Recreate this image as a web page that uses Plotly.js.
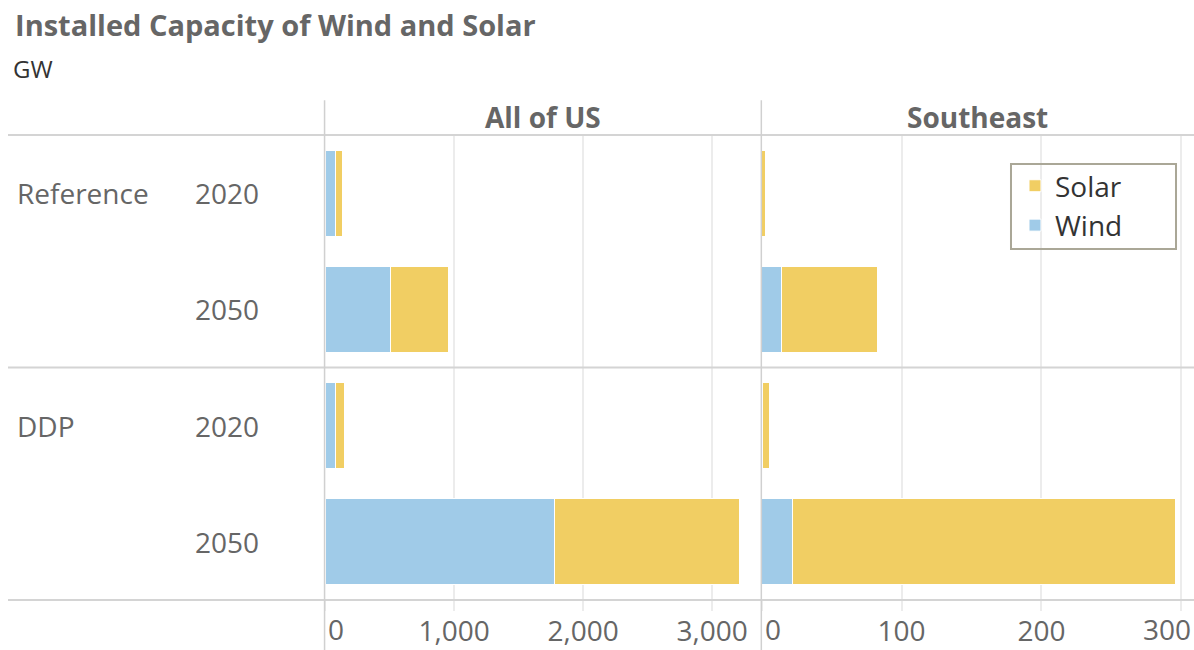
<!DOCTYPE html>
<html>
<head>
<meta charset="utf-8">
<script src="https://cdn.plot.ly/plotly-3.0.1.min.js"></script>
<style>html,body{margin:0;padding:0;background:#fff;}#chart{width:1194px;height:650px;}</style>
</head>
<body>
<div id="chart"></div>
<script>
// Data
const scenarios = ['Reference', 'Reference', 'DDP', 'DDP'];
const years = ['2020', '2050', '2020', '2050'];
const usWind = [83, 504, 83, 1778];
const usSolar = [54, 455, 70, 1434];
const seWind = [0, 14.3, 0.3, 21.9];
const seSolar = [2.6, 68.2, 5.2, 273.7];
const usTickVals = [0, 1000, 2000, 3000];
const usTickText = ['0', '1,000', '2,000', '3,000'];
const seTickVals = [0, 100, 200, 300];
const seTickText = ['0', '100', '200', '300'];
const panelTitles = ['All of US', 'Southeast'];

const rows = scenarios.map((s, i) => s + ' ' + years[i]);
const WIND = '#a0cbe8', SOLAR = '#f1ce63';
const FONT = '"Open Sans", "Noto Sans", sans-serif';
const GREY = '#666666';

const mk = (name, x, color, xa, show) => ({
  type: 'bar', orientation: 'h', name: name, x: x, y: rows,
  xaxis: xa, yaxis: 'y', showlegend: show,
  marker: {color: color, line: {color: '#ffffff', width: 1}},
  hoverinfo: 'x+y+name'
});

const data = [
  mk('Wind', usWind, WIND, 'x', true),
  mk('Solar', usSolar, SOLAR, 'x', true),
  mk('Wind', seWind, WIND, 'x2', false),
  mk('Solar', seSolar, SOLAR, 'x2', false)
];

// tick labels: edge labels are nudged inward (as in the reference), others are regular ticks
const edgeShift = (vals, text, last) => vals.map((v, i) => {
  if (i === 0) return {text: text[i], shift: 11};
  if (last && i === vals.length - 1) return {text: text[i], shift: -14};
  return null;
});
const usEdge = edgeShift(usTickVals, usTickText, false);
const seEdge = edgeShift(seTickVals, seTickText, true);

const axisCommon = {
  showline: false, zeroline: false, showgrid: true,
  gridcolor: '#ececec', gridwidth: 1.5,
  ticks: 'outside', ticklen: 10, tickcolor: '#ececec', tickwidth: 1.5,
  ticklabelstandoff: -4,
  tickfont: {family: FONT, size: 28, color: GREY},
  tickmode: 'array', fixedrange: true
};

const annotations = [];
const tickAnn = (xref, vals, edges) => {
  vals.forEach((v, i) => {
    if (!edges[i]) return;
    annotations.push({xref: xref, yref: 'paper', x: v, y: -0.0624, xanchor: 'center', yanchor: 'middle',
      xshift: edges[i].shift, text: edges[i].text, showarrow: false,
      font: {family: FONT, size: 28, color: GREY}});
  });
};
tickAnn('x', usTickVals, usEdge);
tickAnn('x2', seTickVals, seEdge);

// row labels
rows.forEach((r, i) => {
  annotations.push({xref: 'paper', yref: 'y', x: -0.1519, y: r, xanchor: 'left', yanchor: 'middle',
    text: years[i], showarrow: false, font: {family: FONT, size: 28, color: GREY}});
  if (i === 0 || scenarios[i] !== scenarios[i - 1]) {
    annotations.push({xref: 'paper', yref: 'y', x: -0.3567, y: r, xanchor: 'left', yanchor: 'middle',
      text: scenarios[i], showarrow: false, font: {family: FONT, size: 28, color: GREY}});
  }
});
// panel headers
annotations.push({xref: 'x domain', yref: 'paper', x: 0.5, y: 1.0387, xanchor: 'center', yanchor: 'middle',
  text: '<b>' + panelTitles[0] + '</b>', showarrow: false, font: {family: FONT, size: 28, color: GREY}});
annotations.push({xref: 'x2 domain', yref: 'paper', x: 0.5, y: 1.0387, xanchor: 'center', yanchor: 'middle',
  text: '<b>' + panelTitles[1] + '</b>', showarrow: false, font: {family: FONT, size: 28, color: GREY}});
// unit
annotations.push({xref: 'paper', yref: 'paper', x: -0.3613, y: 1.144, xanchor: 'left', yanchor: 'middle',
  text: 'GW', showarrow: false, font: {family: FONT, size: 24, color: '#333333'}});

const LINE = '#d4d4d4';
const shapes = [
  {type: 'line', xref: 'paper', yref: 'paper', x0: -0.3648, x1: 1, y0: 1, y1: 1, line: {color: LINE, width: 2}},
  {type: 'line', xref: 'paper', yref: 'paper', x0: -0.3648, x1: 1, y0: 0.5, y1: 0.5, line: {color: LINE, width: 2}},
  {type: 'line', xref: 'paper', yref: 'paper', x0: -0.3648, x1: 1, y0: 0, y1: 0, line: {color: LINE, width: 2}},
  {type: 'line', xref: 'paper', yref: 'paper', x0: -0.0005, x1: -0.0005, y0: -0.11, y1: 1.075, line: {color: '#d0d0d0', width: 1.5}},
  {type: 'line', xref: 'paper', yref: 'paper', x0: 0.5021, x1: 0.5021, y0: -0.11, y1: 1.075, line: {color: '#d0d0d0', width: 1.5}},
  // legend frame
  {type: 'rect', xref: 'paper', yref: 'paper', x0: 0.7894, x1: 0.9793, y0: 0.9376, y1: 0.7548,
    line: {color: '#aaa797', width: 2}, fillcolor: 'rgba(255,255,255,0)'}
];

const layout = {
  width: 1194, height: 650,
  margin: {l: 325, r: 0, t: 135, b: 50, pad: 0},
  paper_bgcolor: '#ffffff', plot_bgcolor: '#ffffff',
  barmode: 'stack', bargap: 0.26,
  font: {family: FONT, color: GREY},
  title: {text: '<b>Installed Capacity of Wind and Solar</b>', xref: 'container', yref: 'container',
    x: 0.0126, xanchor: 'left', y: 0.96, yanchor: 'middle',
    font: {family: FONT, size: 29, color: GREY}},
  xaxis: Object.assign({}, axisCommon, {domain: [0, 0.5017], range: [0, 3378], tickvals: usTickVals,
    ticktext: usTickText.map((t, i) => usEdge[i] ? '' : t)}),
  xaxis2: Object.assign({}, axisCommon, {domain: [0.5025, 1], range: [0, 309], tickvals: seTickVals,
    ticktext: seTickText.map((t, i) => seEdge[i] ? '' : t)}),
  yaxis: {type: 'category', categoryorder: 'array', categoryarray: rows, autorange: 'reversed',
    showticklabels: false, showgrid: false, zeroline: false, showline: false, ticks: '', fixedrange: true},
  legend: {x: 0.794, y: 0.944, xanchor: 'left', yanchor: 'top', traceorder: 'reversed',
    borderwidth: 0, bgcolor: 'rgba(255,255,255,0)',
    font: {family: FONT, size: 28, color: '#333333'}},
  annotations: annotations,
  shapes: shapes,
  hovermode: 'closest'
};

Plotly.newPlot('chart', data, layout, {displayModeBar: false});
</script>
</body>
</html>
